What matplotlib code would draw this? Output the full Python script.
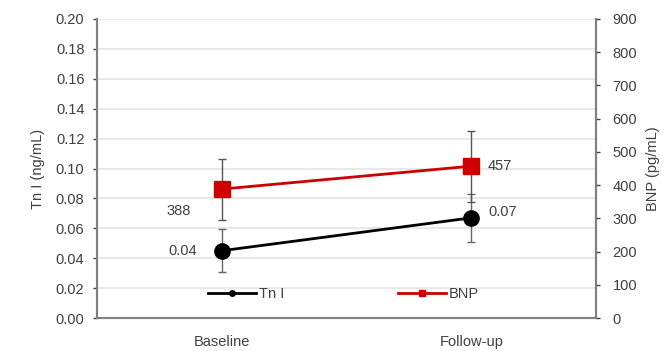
import matplotlib.pyplot as plt

plt.rcParams["font.family"] = ["Liberation Sans", "DejaVu Sans"]

categories = ["Baseline", "Follow-up"]
tni = [0.045, 0.067]
tni_err = [0.0145, 0.016]
tni_labels = ["0.04", "0.07"]
bnp = [388, 457]
bnp_err = [92, 107]
bnp_labels = ["388", "457"]

TXT = "#404040"
SPINE = "#808080"
FS = 10.5

fig = plt.figure(figsize=(6.66, 3.51), dpi=100)
ax = fig.add_axes([97 / 666, 33 / 351, 499 / 666, 299 / 351])
ax2 = ax.twinx()

x = [0, 1]

ax.errorbar(x, tni, yerr=tni_err, color="black", marker="o", markersize=11,
            linewidth=2, ecolor="#666666", elinewidth=1, capsize=3, label="Tn I", zorder=3)
ax2.errorbar(x, bnp, yerr=bnp_err, color="#cc0000", marker="s", markersize=11,
             linewidth=2, ecolor="#555555", elinewidth=1, capsize=3, label="BNP", zorder=3)

ax.set_xlim(-0.5, 1.5)
ax.set_ylim(0, 0.2)
ax.set_yticks([i * 0.02 for i in range(11)])
ax.set_yticklabels([f"{i * 0.02:.2f}" for i in range(11)])
ax2.set_ylim(0, 900)
ax2.set_yticks(range(0, 901, 100))
ax.set_xticks(x)
ax.set_xticklabels(categories)

ax.grid(axis="y", color="#e4e4e4", linewidth=1.2)
ax.set_axisbelow(True)

for a in (ax, ax2):
    a.spines["top"].set_visible(False)
    for s in ("left", "right", "bottom"):
        a.spines[s].set_color(SPINE)
        a.spines[s].set_linewidth(1.5)
    a.tick_params(colors=TXT, labelsize=FS, length=3, width=1, direction="out", pad=6)
ax2.tick_params(pad=9)
ax.tick_params(axis="x", length=0, pad=12)

ax.set_ylabel("Tn I (ng/mL)", color=TXT, fontsize=FS, labelpad=8)
ax2.set_ylabel("BNP (pg/mL)", color=TXT, fontsize=FS, labelpad=6)

ax.annotate(tni_labels[0], (x[0], tni[0]), xytext=(-18, 0), textcoords="offset points",
            ha="right", va="center", color=TXT, fontsize=FS)
ax.annotate(tni_labels[1], (x[1], tni[1]), xytext=(12, 4), textcoords="offset points",
            ha="left", va="center", color=TXT, fontsize=FS)
ax2.annotate(bnp_labels[0], (x[0], bnp[0]), xytext=(-22, -16), textcoords="offset points",
             ha="right", va="center", color=TXT, fontsize=FS)
ax2.annotate(bnp_labels[1], (x[1], bnp[1]), xytext=(12, 0), textcoords="offset points",
             ha="left", va="center", color=TXT, fontsize=FS)

h1 = plt.Line2D([], [], color="black", marker="o", markersize=4, linewidth=2)
h2 = plt.Line2D([], [], color="#cc0000", marker="s", markersize=4, linewidth=2)
leg = ax.legend([h1, h2], ["Tn I", "BNP"], loc="lower left", bbox_to_anchor=(0.196, 0.013),
                ncol=2, frameon=False, fontsize=FS, columnspacing=7.8, handlelength=3.3,
                handletextpad=0.2)
for t in leg.get_texts():
    t.set_color(TXT)

fig.savefig("out.png", dpi=100)
